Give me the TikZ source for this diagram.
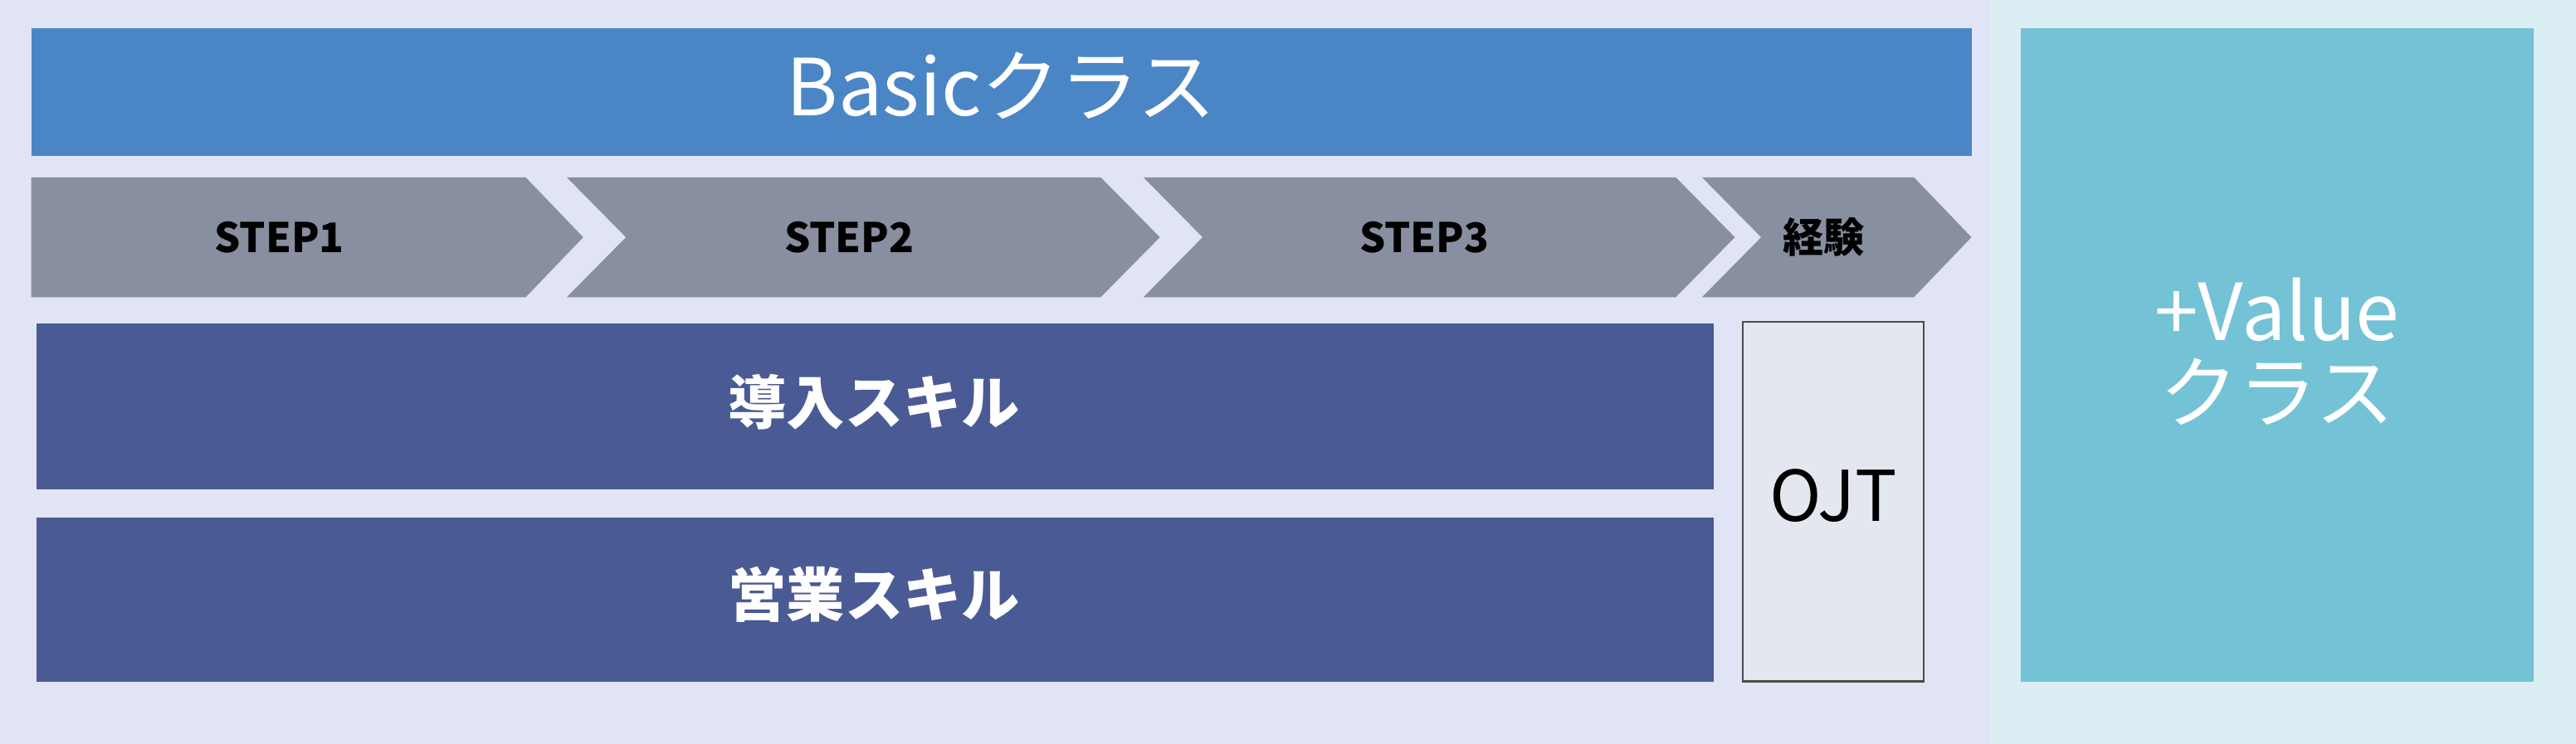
\documentclass[tikz,border=0pt]{standalone}
\usepackage{fontspec}
\setmainfont{Noto Sans CJK JP}
\newfontfamily\jpb{Noto Sans CJK JP Bold}
\definecolor{bgL}{HTML}{E0E4F4}
\definecolor{bgR}{HTML}{DAEEF3}
\definecolor{basic}{HTML}{4A86C5}
\definecolor{chev}{HTML}{878FA0}
\definecolor{skill}{HTML}{4A5A94}
\definecolor{ojt}{HTML}{E3E7EF}
\definecolor{val}{HTML}{74C2D6}
\begin{document}
\begin{tikzpicture}[x=0.0198cm,y=-0.0198cm,
  chevtext/.style={font=\fontsize{14}{16}\selectfont\bfseries,text=black},
  skilltext/.style={font=\fontsize{20}{24}\selectfont\bfseries,text=white},
  bigtext/.style={font=\fontsize{27}{32}\selectfont,text=white}]
\fill[bgL] (0,0) rectangle (1212,453);
\fill[bgR] (1212,0) rectangle (1568,453);
\useasboundingbox (0,0) rectangle (1568,453);
\fill[basic] (19,17) rectangle (1200,95);
\node[bigtext] (basic) at (609.5,52) {Basicクラス};
\fill[chev] (19,108) -- (320,108) -- (355,144.5) -- (320,181) -- (19,181) -- cycle;
\fill[chev] (345,108) -- (670,108) -- (706,144.5) -- (670,181) -- (345,181) -- (381,144.5) -- cycle;
\fill[chev] (696,108) -- (1020,108) -- (1056,144.5) -- (1020,181) -- (696,181) -- (732,144.5) -- cycle;
\fill[chev] (1036,108) -- (1165,108) -- (1200,144.5) -- (1165,181) -- (1036,181) -- (1072,144.5) -- cycle;
\node[chevtext] (s1) at (170,144.5) {STEP1};
\node[chevtext] (s2) at (517,144.5) {STEP2};
\node[chevtext] (s3) at (867,144.5) {STEP3};
\node[chevtext] (s4) at (1110,144.5) {経験};
\fill[skill] (22,197) rectangle (1043,298);
\node[skilltext] (d) at (532,245) {導入スキル};
\fill[skill] (22,315) rectangle (1043,415);
\node[skilltext] (e) at (532,362) {営業スキル};
\draw[fill=ojt,draw=black!70,line width=0.6pt] (1061,196) rectangle (1171,415);
\node[font=\fontsize{24}{28}\selectfont] (o) at (1116,302) {OJT};
\fill[val] (1230,17) rectangle (1542,415);
\node[bigtext,align=center] (v) at (1386,214) {+Value\\[-4pt]クラス};
\end{tikzpicture}
\end{document}
